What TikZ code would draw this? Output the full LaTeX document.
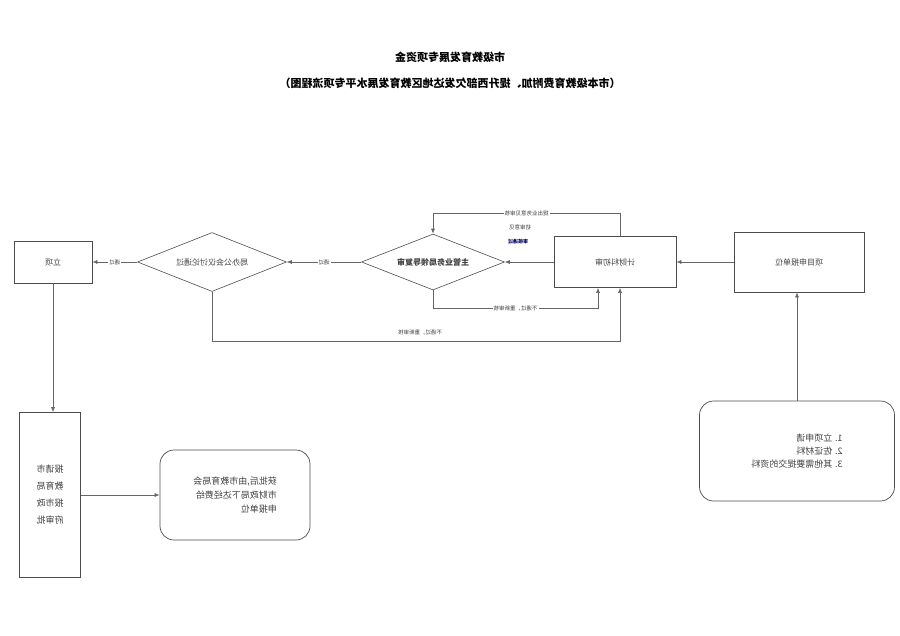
\documentclass[tikz,border=0pt]{standalone}
\usepackage{fontspec}
\setmainfont{Noto Sans CJK SC}
\usetikzlibrary{shapes.geometric,arrows.meta}
\begin{document}
\begin{tikzpicture}[x=1pt,y=-1pt,
  every node/.style={font=\fontsize{8}{10}\selectfont,text=black!75,xscale=-1},
  box/.style={draw=black!70,line width=0.7pt},
  dia/.style={draw=black!70,diamond,aspect=2.55,inner sep=1pt,line width=0.6pt},
  rbox/.style={draw=black!70,rounded corners=14pt,line width=0.7pt},
  ln/.style={draw=black!60,line width=0.6pt},
  arr/.style={ln,-{Latex[length=5pt,width=4pt]}},
  lab/.style={font=\fontsize{5.5}{7}\selectfont,fill=white,inner sep=1pt}]
\useasboundingbox (0,0) rectangle (900,635);
\node[font=\fontsize{11}{13}\selectfont\bfseries,text=black] (t1) at (450,57) {市级教育发展专项资金};
\node[font=\fontsize{11}{13}\selectfont\bfseries,text=black] (t2) at (450,83) {（市本级教育费附加、提升西部欠发达地区教育发展水平专项流程图）};

\node[box,minimum width=78pt,minimum height=42pt] (lx) at (53,262) {立项};
\node[dia,minimum width=149pt,minimum height=59pt] (jb) at (212,262) {局办公会议讨论通过};
\node[dia,minimum width=143pt,minimum height=56pt] (zg) at (433,262) {\bfseries 主管业务局领导复审};
\node[box,minimum width=122pt,minimum height=51pt] (jc) at (615,262) {计财科初审};
\node[box,minimum width=130pt,minimum height=60pt] (xm) at (799,262) {项目申报单位};
\node[box,minimum width=61pt,minimum height=165pt,align=left,font=\fontsize{9}{17}\selectfont] (bs) at (50,495) {报请市\\教育局\\报市政\\府审批};
\node[rbox,minimum width=150pt,minimum height=90pt,align=left,font=\fontsize{9}{14}\selectfont] (hp) at (235,495) {获批后,由市教育局会\\市财政局下达经费给\\申报单位};
\node[rbox,minimum width=195pt,minimum height=100pt,align=left,font=\fontsize{9}{13}\selectfont] (cl) at (797,451) {1. 立项申请\\2. 佐证材料\\3. 其他需要提交的资料};

\draw[arr] (xm) -- (jc);
\draw[arr] (jc) -- (zg);
\draw[arr] (zg) -- node[lab]{通过} (jb);
\draw[arr] (jb) -- node[lab]{通过} (lx);
\draw[arr] (lx.south) -- (bs.north -| lx.south);
\draw[arr] (bs) -- (hp);
\draw[arr] (cl.north) -- (xm.south -| cl.north);

\coordinate (a1) at (620,213);
\coordinate (a2) at (433,213);
\draw[arr] (jc.north -| a1) -- (a1) -- node[lab]{提出业务意见审核} (a2) -- (zg.north);
\node[lab,fill=none] (a3) at (520,227) {初审意见};
\node[lab,fill=none,text=blue!40!black,font=\fontsize{5}{6}\selectfont\bfseries] (a4) at (518,242) {审核通过};

\coordinate (b1) at (433,308);
\coordinate (b2) at (598,308);
\draw[arr] (zg.south) -- (b1) -- node[lab]{不通过，重新审核} (b2) -- (jc.south -| b2);

\coordinate (c1) at (212,341);
\coordinate (c2) at (620,341);
\draw[arr] (jb.south) -- (c1) -- (c2) -- (jc.south -| c2);
\node[lab,fill=none] (c3) at (420,332) {不通过，重新审核};
\end{tikzpicture}
\end{document}
